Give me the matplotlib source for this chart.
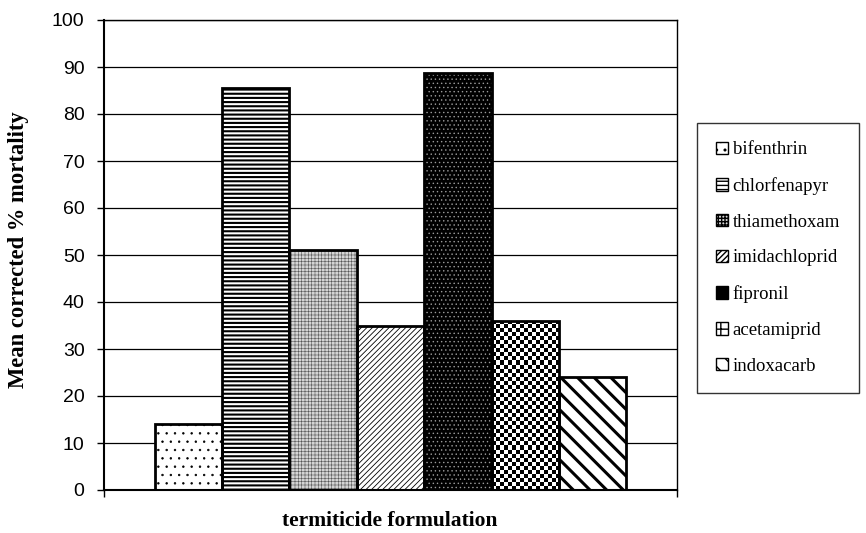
import numpy as np
import matplotlib
matplotlib.use("Agg")
import matplotlib.pyplot as plt
from matplotlib.patches import Patch

categories = ["bifenthrin", "chlorfenapyr", "thiamethoxam", "imidachloprid",
              "fipronil", "acetamiprid", "indoxacarb"]
values = [14, 85.5, 51, 35, 88.7, 36, 24]
yticks = [0, 10, 20, 30, 40, 50, 60, 70, 80, 90, 100]

# style per series: (facecolor, hatch, hatchcolor, hatch linewidth)
styles = [
    ("white", "..", "black", 0.5),
    ("white", "----", "black", 1.5),
    ("#d4d4d4", "+++++", "#555555", 0.4),
    ("white", "//////", "black", 0.6),
    ("black", "....", "#9a9a9a", 0.5),
    ("white", None, "black", 1.0),   # checkerboard drawn separately
    ("white", "\\\\", "black", 2.2),
]

SERIF = ["Liberation Serif", "DejaVu Serif"]
plt.rcParams["font.family"] = ["Liberation Sans", "DejaVu Sans"]
fig = plt.figure(figsize=(8.66, 5.33), dpi=100)
ax = fig.add_axes([104 / 866, 1 - 490 / 533, (677 - 104) / 866, (490 - 20) / 533])

n = len(categories)
width = 1.0
offsets = (np.arange(n) - (n - 1) / 2) * width

ax.set_axisbelow(True)
ax.yaxis.grid(True, color="black", linewidth=0.9)

handles = []
for i, (cat, val) in enumerate(zip(categories, values)):
    fc, hatch, hc, hlw = styles[i]
    with plt.rc_context({"hatch.linewidth": hlw, "hatch.color": hc}):
        bars = ax.bar(offsets[i], val, width=width, color=fc, hatch=hatch,
                      edgecolor=hc, linewidth=0, zorder=2)
    b = bars[0]
    try:
        b.set_hatch_linewidth(hlw)
    except Exception:
        pass
    if i == 5:
        nx = 17
        ny = max(1, int(round(val * 4.7 / 4.0)))
        board = (np.indices((ny, nx)).sum(axis=0) % 2).astype(float)
        im = ax.imshow(board, cmap="gray", vmin=0, vmax=1, aspect="auto",
                       interpolation="nearest",
                       extent=(b.get_x(), b.get_x() + b.get_width(), 0, b.get_height()),
                       zorder=2.5)
        im.set_clip_path(b)
    ax.bar(offsets[i], val, width=width, facecolor="none", edgecolor="black",
           linewidth=2.0, zorder=3)
    if i == 5:
        handles.append(Patch(facecolor="white", edgecolor="black", hatch="++", linewidth=1.0))
    else:
        with plt.rc_context({"hatch.linewidth": min(hlw, 1.0), "hatch.color": hc}):
            p = Patch(facecolor=fc, edgecolor="black", hatch=hatch, linewidth=1.0)
        handles.append(p)

ax.set_xlim(-4.25, 4.25)
ax.set_ylim(0, 100)
ax.set_yticks(yticks)
ax.set_yticklabels([str(t) for t in yticks], fontsize=14)
ax.set_xticks([-4.25, 4.25])
ax.set_xticklabels(["", ""])
ax.tick_params(axis="y", direction="out", length=5, width=1, pad=9)
ax.tick_params(axis="x", direction="out", length=5, width=1)
for s in ax.spines.values():
    s.set_color("black")
ax.spines["left"].set_linewidth(1.5)
ax.spines["bottom"].set_linewidth(1.5)
ax.spines["top"].set_linewidth(1.0)
ax.spines["right"].set_linewidth(1.0)

fig.text(19 / 866, 1 - 250 / 533, "Mean corrected % mortality", rotation=90,
         ha="center", va="center", fontsize=16.3, fontweight="bold", family=SERIF)
fig.text(390 / 866, 1 - 521 / 533, "termiticide formulation",
         ha="center", va="center", fontsize=15.5, fontweight="bold", family=SERIF)

leg = fig.legend(handles, categories, loc="center left",
                 bbox_to_anchor=(697 / 866, 1 - 258 / 533),
                 frameon=True, fancybox=False, shadow=False,
                 prop={"family": SERIF, "size": 13.5},
                 handlelength=0.65, handleheight=0.65, handletextpad=0.25,
                 labelspacing=1.0, borderpad=1.0, borderaxespad=0)
leg.get_frame().set_edgecolor("black")
leg.get_frame().set_linewidth(1.0)

fig.savefig("out.png", dpi=100)
